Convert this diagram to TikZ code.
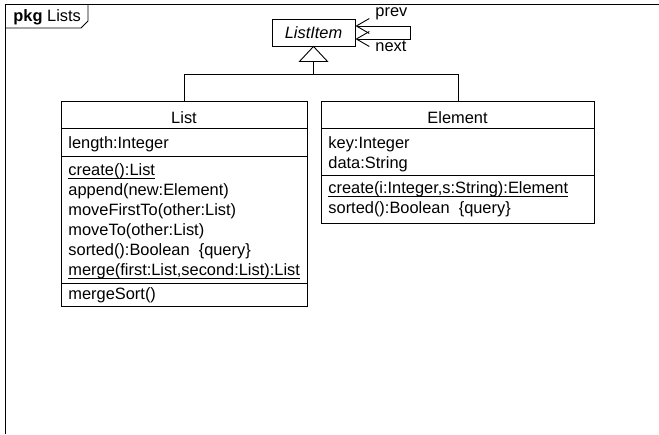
\documentclass[tikz,border=0pt]{standalone}
\usepackage{fontspec}
\setmainfont{Liberation Sans}
\usetikzlibrary{arrows.meta}
\newlength\ulw
\newcommand\ulined[1]{\settowidth\ulw{#1}\rlap{\rule[-3.4pt]{\ulw}{0.9pt}}#1}
\begin{document}
\begin{tikzpicture}[x=1pt,y=-1pt,line width=0.9pt,
  fnt/.style={font=\fontsize{16.4}{20}\selectfont},
  txt/.style={fnt,anchor=base west,inner sep=0pt},
  ctxt/.style={fnt,anchor=base,inner sep=0pt},
  box/.style={draw,anchor=north west,inner sep=0pt},
  barb/.style={{Straight Barb[length=13pt,width=15pt]}-{Straight Barb[length=13pt,width=15pt]}}]
\useasboundingbox (0,0) rectangle (659,434);
% frame
\draw (5,434) -- (5,4.5) -- (659,4.5);
\draw (5,28) -- (81,28) -- (88,21) -- (88,4.5);
\node[txt] (pkg) at (13,21.5) {\textbf{pkg} Lists};
% ListItem
\node[draw,fnt,minimum width=83pt,minimum height=27pt,inner sep=0pt] (li) at (313.5,32.5) {\itshape ListItem};
\draw[barb] ([yshift=6.5pt]li.east) -- ++(55,0) -- ++(0,13) -- ([yshift=-6.5pt]li.east);
\node[txt] (prev) at (375,16) {prev};
\node[txt] (next) at (375,51) {next};
% List box
\node[box,minimum width=246pt,minimum height=205pt] (list) at (61,101) {};
\draw ([yshift=-27pt]list.north west) -- ([yshift=-27pt]list.north east);
\draw ([yshift=-55pt]list.north west) -- ([yshift=-55pt]list.north east);
\draw ([yshift=-182pt]list.north west) -- ([yshift=-182pt]list.north east);
\node[ctxt] (lt) at (184,123) {List};
\node[txt] (l1) at (68,148) {length:Integer};
\node[txt] (l2) at (68,175) {\ulined{create():List}};
\node[txt] (l3) at (68,195) {append(new:Element)};
\node[txt] (l4) at (68,215) {moveFirstTo(other:List)};
\node[txt] (l5) at (68,235) {moveTo(other:List)};
\node[txt] (l6) at (68,255) {sorted():Boolean\ \ \{query\}};
\node[txt] (l7) at (68,275) {\ulined{merge(first:List,second:List):List}};
\node[txt] (l8) at (68,299) {mergeSort()};
% Element box
\node[box,minimum width=273pt,minimum height=122pt] (elem) at (321,101) {};
\draw ([yshift=-27pt]elem.north west) -- ([yshift=-27pt]elem.north east);
\draw ([yshift=-74pt]elem.north west) -- ([yshift=-74pt]elem.north east);
\node[ctxt] (et) at (457.5,123) {Element};
\node[txt] (e1) at (328,148) {key:Integer};
\node[txt] (e2) at (328,168) {data:String};
\node[txt] (e3) at (328,193) {\ulined{create(i:Integer,s:String):Element}};
\node[txt] (e4) at (328,213) {sorted():Boolean\ \ \{query\}};
% generalization
\coordinate (tb) at ([yshift=-15pt]li.south);
\coordinate (gj) at ([yshift=-28pt]li.south);
\draw[fill=white] (li.south) -- ([xshift=-14pt]tb) -- ([xshift=14pt]tb) -- cycle;
\draw (tb) -- (gj);
\draw (list.north) -- (list.north |- gj) -- (elem.north |- gj) -- (elem.north);
\end{tikzpicture}
\end{document}
